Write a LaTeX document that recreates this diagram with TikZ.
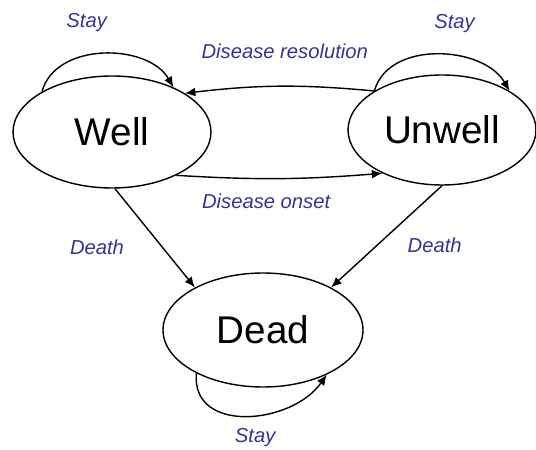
\documentclass[tikz,border=0pt]{standalone}
\usepackage{fontspec}
\setmainfont{Liberation Sans}
\usetikzlibrary{shapes.geometric, arrows.meta}
\definecolor{labelblue}{RGB}{51,51,153}

\begin{document}
\begin{tikzpicture}[
            state_style/.style={ellipse, draw, line width=0.8pt, inner sep=0pt, font=\fontsize{22}{26}\selectfont},
            label_style/.style={font=\fontsize{11.5}{13}\selectfont\itshape, text=labelblue},
            line/.style={-{Latex[length=6pt,width=5pt]}, line width=0.8pt}
        ]
        \useasboundingbox (0,0) rectangle (10.72,8.98);

        % States
        \node (well) [state_style, minimum width=3.96cm, minimum height=2.24cm] at (2.24,6.34) {Well};
        \node (unwell) [state_style, minimum width=3.76cm, minimum height=2.2cm] at (8.84,6.38) {Unwell};
        \node (dead) [state_style, minimum width=4cm, minimum height=2.28cm] at (5.26,2.38) {Dead};

        % Stay loops
        \draw [line] (well.150) to[out=75, in=120] node[label_style, pos=0.4, above=10pt] {Stay} (well.36);
        \draw [line] (unwell.150) to[out=75, in=120] node[label_style, pos=0.6, above=10pt] {Stay} (unwell.30);
        \draw [line] (dead.213) to[out=-95, in=-125, looseness=1.2] node[label_style, pos=0.55, below=4pt] {Stay} (dead.325);

        % Transitions
        \draw [line] (unwell.150) to[bend right=6] node[label_style, pos=0.47, above=12pt] {Disease resolution} (well.28);
        \draw [line] (well.-34) to[bend right=4] node[label_style, pos=0.43, below=5pt] {Disease onset} (unwell.216);
        \draw [line] (well.273) -- node[label_style, pos=0.59, left=18pt] {Death} (dead.148);
        \draw [line] (unwell.270) -- node[label_style, pos=0.59, right=14pt] {Death} (dead.32);

    \end{tikzpicture}
\end{document}
